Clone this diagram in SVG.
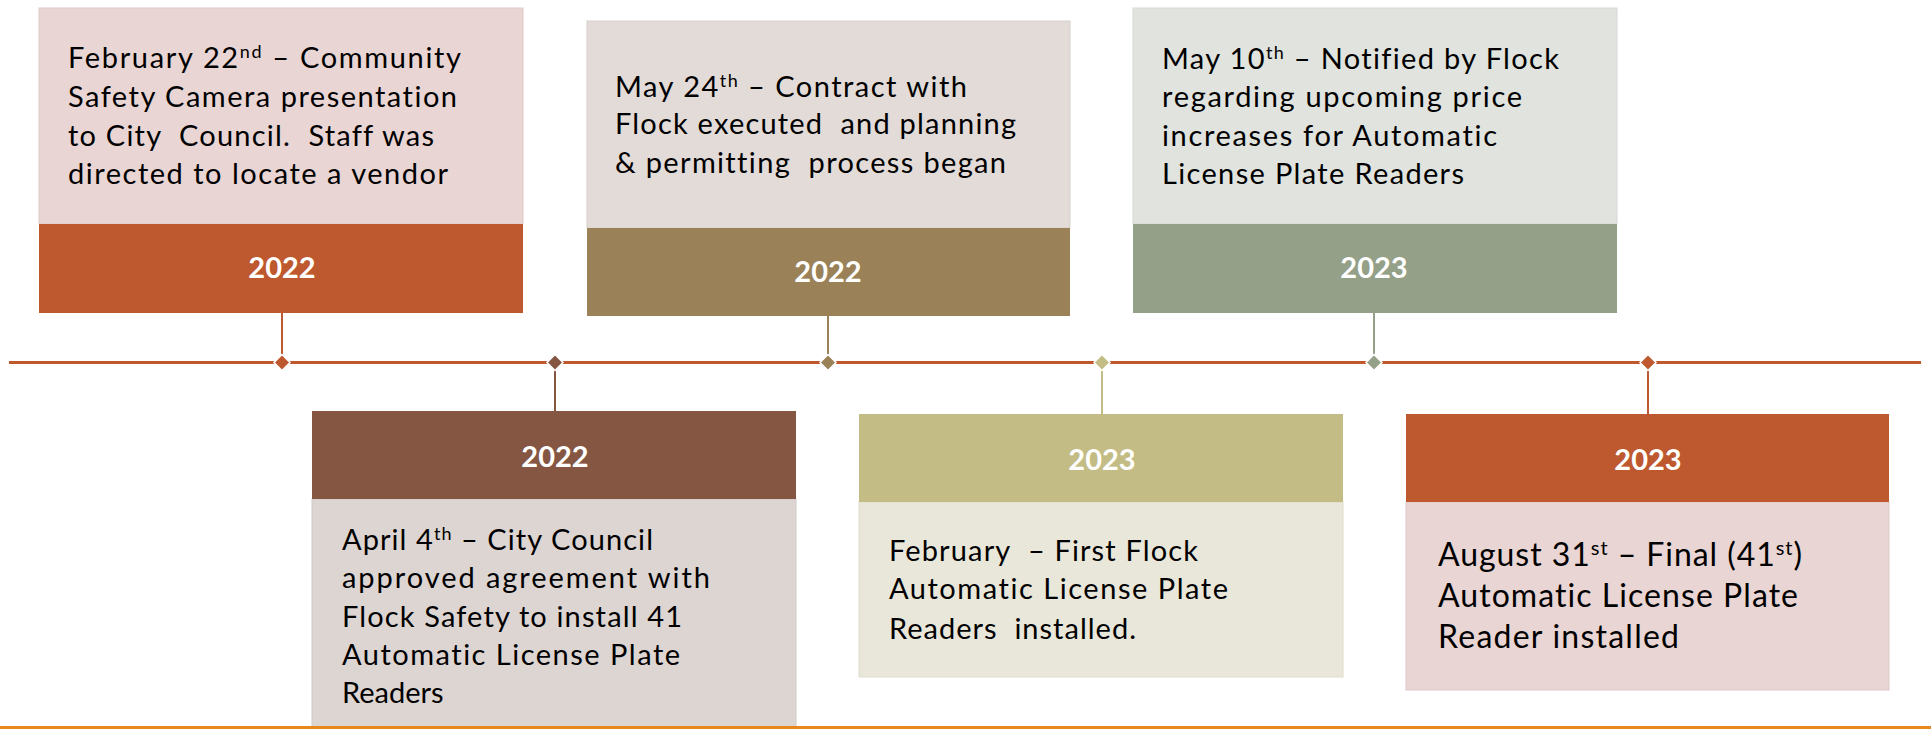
<svg xmlns="http://www.w3.org/2000/svg" width="1931" height="729" viewBox="0 0 1931 729">
<style>
.body{font-family:Lato,"Liberation Sans",sans-serif;font-size:29px;fill:#000;white-space:pre;font-variant-ligatures:none}
.big{font-size:32px}
.sup{font-size:18px}
.bigsup{font-size:20px}
.year{font-family:Lato,"Liberation Sans",sans-serif;font-size:29px;font-weight:bold;fill:#fff;text-anchor:middle}
.edge{stroke-width:1}
</style>
<rect width="1931" height="729" fill="#fff"/>
<g id="connectors">
<line x1="9" y1="362.5" x2="1921" y2="362.5" stroke="#C0582E" stroke-width="3"/>
<line x1="282" y1="313" x2="282" y2="362" stroke="#BE582E" stroke-width="2"/>
<line x1="828" y1="316" x2="828" y2="362" stroke="#9A8157" stroke-width="2"/>
<line x1="1374" y1="313" x2="1374" y2="362" stroke="#94A088" stroke-width="2"/>
<line x1="555" y1="362" x2="555" y2="411" stroke="#855642" stroke-width="2"/>
<line x1="1102" y1="362" x2="1102" y2="414" stroke="#C3BC84" stroke-width="2"/>
<line x1="1648" y1="362" x2="1648" y2="414" stroke="#BE582E" stroke-width="2"/>
<g stroke="#fff" stroke-width="1.5">
<polygon points="282,354.5 290,362.5 282,370.5 274,362.5" fill="#BE582E"/>
<polygon points="555,354.5 563,362.5 555,370.5 547,362.5" fill="#855642"/>
<polygon points="828,354.5 836,362.5 828,370.5 820,362.5" fill="#9A8157"/>
<polygon points="1102,354.5 1110,362.5 1102,370.5 1094,362.5" fill="#C3BC84"/>
<polygon points="1374,354.5 1382,362.5 1374,370.5 1366,362.5" fill="#94A088"/>
<polygon points="1648,354.5 1656,362.5 1648,370.5 1640,362.5" fill="#BE582E"/>
</g>
</g>
<g id="event1">
<rect x="39" y="8" width="484" height="216" fill="#E9D5D3" stroke="#DFC9C7" class="edge"/>
<rect x="39" y="224" width="484" height="89" fill="#BE582E"/>
<text class="year" x="282" y="278">2022</text>
<text class="body" x="68" y="68" textLength="393" lengthAdjust="spacing">February 22<tspan class="sup" dy="-10">nd</tspan><tspan dy="10"> – Community</tspan></text>
<text class="body" x="68" y="107" textLength="389" lengthAdjust="spacing">Safety Camera presentation</text>
<text class="body" x="68" y="146" textLength="366" lengthAdjust="spacing">to City  Council.  Staff was</text>
<text class="body" x="68" y="184" textLength="380" lengthAdjust="spacing">directed to locate a vendor</text>
</g>
<g id="event2">
<rect x="312" y="499" width="484" height="232" fill="#DDD5D2" stroke="#D2C9C6" class="edge"/>
<rect x="312" y="411" width="484" height="88" fill="#855642"/>
<text class="year" x="555" y="467">2022</text>
<text class="body" x="342" y="550" textLength="311" lengthAdjust="spacing">April 4<tspan class="sup" dy="-10">th</tspan><tspan dy="10"> – City Council</tspan></text>
<text class="body" x="342" y="588" textLength="368" lengthAdjust="spacing">approved agreement with</text>
<text class="body" x="342" y="627" textLength="340" lengthAdjust="spacing">Flock Safety to install 41</text>
<text class="body" x="342" y="665" textLength="338" lengthAdjust="spacing">Automatic License Plate</text>
<text class="body" x="342" y="703">Readers</text>
</g>
<g id="event3">
<rect x="587" y="21" width="483" height="207" fill="#E2DBD7" stroke="#D8D0CB" class="edge"/>
<rect x="587" y="228" width="483" height="88" fill="#9A8157"/>
<text class="year" x="828" y="282">2022</text>
<text class="body" x="615" y="97" textLength="352" lengthAdjust="spacing">May 24<tspan class="sup" dy="-10">th</tspan><tspan dy="10"> – Contract with</tspan></text>
<text class="body" x="615" y="134" textLength="401" lengthAdjust="spacing">Flock executed  and planning</text>
<text class="body" x="615" y="173" textLength="391" lengthAdjust="spacing">&amp; permitting  process began</text>
</g>
<g id="event4">
<rect x="859" y="502" width="484" height="175" fill="#E9E7DA" stroke="#DFDCCD" class="edge"/>
<rect x="859" y="414" width="484" height="88" fill="#C3BC84"/>
<text class="year" x="1102" y="470">2023</text>
<text class="body" x="889" y="561" textLength="309" lengthAdjust="spacing">February  – First Flock</text>
<text class="body" x="889" y="599" textLength="339" lengthAdjust="spacing">Automatic License Plate</text>
<text class="body" x="889" y="639" textLength="247" lengthAdjust="spacing">Readers  installed.</text>
</g>
<g id="event5">
<rect x="1133" y="8" width="484" height="216" fill="#E0E3DE" stroke="#D5D9D3" class="edge"/>
<rect x="1133" y="224" width="484" height="89" fill="#94A088"/>
<text class="year" x="1374" y="278">2023</text>
<text class="body" x="1162" y="69" textLength="397" lengthAdjust="spacing">May 10<tspan class="sup" dy="-10">th</tspan><tspan dy="10"> – Notified by Flock</tspan></text>
<text class="body" x="1162" y="107" textLength="360" lengthAdjust="spacing">regarding upcoming price</text>
<text class="body" x="1162" y="146" textLength="335" lengthAdjust="spacing">increases for Automatic</text>
<text class="body" x="1162" y="184" textLength="302" lengthAdjust="spacing">License Plate Readers</text>
</g>
<g id="event6">
<rect x="1406" y="502" width="483" height="188" fill="#E9D5D3" stroke="#DFC9C7" class="edge"/>
<rect x="1406" y="414" width="483" height="88" fill="#BE582E"/>
<text class="year" x="1648" y="470">2023</text>
<text class="body big" x="1438" y="566" textLength="364" lengthAdjust="spacing">August 31<tspan class="bigsup" dy="-11">st</tspan><tspan dy="11"> – Final (41</tspan><tspan class="bigsup" dy="-11">st</tspan><tspan dy="11">)</tspan></text>
<text class="body big" x="1438" y="607" textLength="360" lengthAdjust="spacing">Automatic License Plate</text>
<text class="body big" x="1438" y="648" textLength="241" lengthAdjust="spacing">Reader installed</text>
</g>
<rect x="0" y="726" width="1931" height="3" fill="#E8871E"/>
</svg>
